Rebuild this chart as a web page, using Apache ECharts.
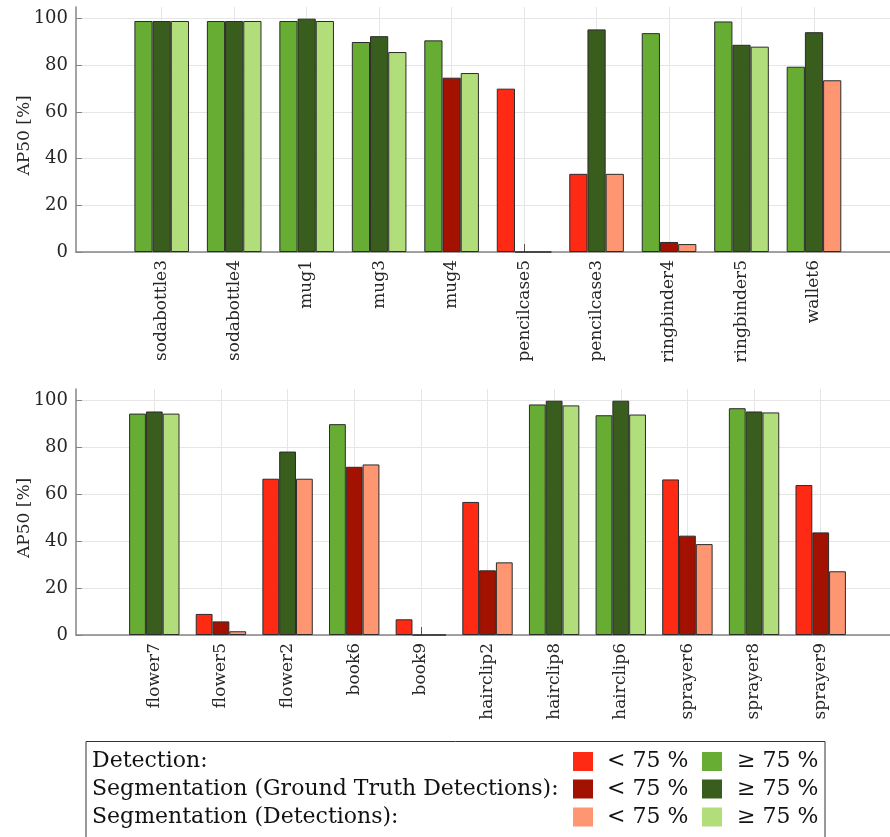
<!DOCTYPE html>
<html>
<head>
<meta charset="utf-8">
<title>AP50 per object</title>
<script src="https://cdn.jsdelivr.net/npm/echarts@6.0.0/dist/echarts.min.js"></script>
<style>
  html, body { margin: 0; padding: 0; background: #fff; }
  #chart { width: 890px; height: 837px; }
</style>
</head>
<body>
<div id="chart"></div>
<script>
// values (AP50 in %)
var topCategories = ['sodabottle3', 'sodabottle4', 'mug1', 'mug3', 'mug4', 'pencilcase5', 'pencilcase3', 'ringbinder4', 'ringbinder5', 'wallet6'];
var topDetection = [99, 99, 99, 90, 90.7, 70, 33.5, 93.8, 98.8, 79.4];
var topSegGT = [99, 99, 100, 92.5, 74.7, 0, 95.4, 4.3, 88.8, 94.2];
var topSegDet = [99, 99, 99, 85.7, 76.7, 0, 33.5, 3.4, 88, 73.6];

var bottomCategories = ['flower7', 'flower5', 'flower2', 'book6', 'book9', 'hairclip2', 'hairclip8', 'hairclip6', 'sprayer6', 'sprayer8', 'sprayer9'];
var bottomDetection = [94.5, 9, 66.7, 90, 6.7, 56.8, 98.4, 93.8, 66.4, 96.8, 64];
var bottomSegGT = [95.4, 5.8, 78.3, 71.8, 0, 27.6, 100, 100, 42.4, 95.4, 43.8];
var bottomSegDet = [94.5, 1.6, 66.7, 72.8, 0, 31, 98, 94.1, 38.8, 95, 27.2];

var yMin = 0, yMax = 100, yStep = 20, yLimit = 105;
var threshold = 75;

var seriesNames = ['Detection', 'Segmentation (Ground Truth Detections)', 'Segmentation (Detections)'];
var legendLabels = ['Detection:', 'Segmentation (Ground Truth Detections):', 'Segmentation (Detections):'];
var lowColors = ['#ff2a14', '#a31100', '#ff9672'];
var highColors = ['#67ad33', '#395d1c', '#b1de7b'];

var font = 'DejaVu Serif';
var textColor = '#262626';
var axisColor = '#858585';
var gridColor = '#e6e6e6';

var chart = echarts.init(document.getElementById('chart'));

// frame: axis lines up to the 105 limit
function frameY(idx) {
    return {
        gridIndex: idx, type: 'value', min: yMin, max: yLimit,
        axisLine: { show: true, lineStyle: { color: axisColor, width: 1.5 } },
        axisTick: { show: false }, axisLabel: { show: false }, splitLine: { show: false }
    };
}
function hiddenX(idx, line) {
    return {
        gridIndex: idx, type: 'value', min: 0, max: 1,
        axisLine: { show: line, onZero: false, lineStyle: { color: axisColor, width: 1.5 } },
        axisTick: { show: false }, axisLabel: { show: false }, splitLine: { show: false }
    };
}
// ticks, labels and grid lines 0..100
function tickY(idx) {
    return {
        gridIndex: idx, type: 'value', min: yMin, max: yMax, interval: yStep,
        name: 'AP50 [%]',
        nameLocation: 'middle',
        nameGap: 43,
        nameRotate: 90,
        nameMoveOverlap: false,
        nameTextStyle: { fontFamily: font, fontSize: 17, color: textColor },
        axisLine: { show: false },
        axisTick: { show: true, inside: true, length: 6, lineStyle: { color: axisColor } },
        axisLabel: { margin: 8, fontFamily: font, fontSize: 18, color: textColor },
        splitLine: { show: true, lineStyle: { color: gridColor } }
    };
}
// bar axes
function barX(idx, cats) {
    return {
        gridIndex: idx,
        type: 'category',
        data: cats,
        boundaryGap: false,
        axisLine: { show: false },
        axisTick: { show: true, inside: true, length: 8, lineStyle: { color: '#555' } },
        axisLabel: { interval: 0, rotate: 90, margin: 8, fontFamily: font, fontSize: 17, color: textColor },
        splitLine: { show: true, lineStyle: { color: gridColor } }
    };
}
function barY(idx) {
    return { gridIndex: idx, type: 'value', min: yMin, max: yLimit, show: false, splitLine: { show: false } };
}

function barSeries(axisIdx, data, k, width) {
    return {
        name: seriesNames[k],
        type: 'bar',
        xAxisIndex: axisIdx,
        yAxisIndex: axisIdx,
        data: data,
        barWidth: width,
        barGap: '0%',
        clip: false,
        silent: true,
        itemStyle: {
            color: function (p) { return p.value >= threshold ? highColors[k] : lowColors[k]; },
            borderColor: '#2b2b2b',
            borderWidth: 1
        }
    };
}

// legend box
var legendFont = '22px "' + font + '"';
var graphics = [{
    type: 'rect',
    shape: { x: 86, y: 741.5, width: 739, height: 140 },
    style: { fill: '#fff', stroke: '#333', lineWidth: 1 },
    z: 0
}];
var rowY = [761.5, 789, 817];
for (var k = 0; k < 3; k++) {
    graphics.push({
        type: 'text', x: 92, y: rowY[k],
        style: { text: legendLabels[k], font: legendFont, fill: '#111', textVerticalAlign: 'middle' }
    });
    graphics.push({
        type: 'rect', shape: { x: 573, y: rowY[k] - 9.5, width: 20, height: 19 },
        style: { fill: lowColors[k] }
    });
    graphics.push({
        type: 'text', x: 607, y: rowY[k],
        style: { text: '< 75 %', font: legendFont, fill: '#111', textVerticalAlign: 'middle' }
    });
    graphics.push({
        type: 'rect', shape: { x: 702, y: rowY[k] - 9.5, width: 20, height: 19 },
        style: { fill: highColors[k] }
    });
    graphics.push({
        type: 'text', x: 737, y: rowY[k],
        style: { text: '≥ 75 %', font: legendFont, fill: '#111', textVerticalAlign: 'middle' }
    });
}

var option = {
    animation: false,
    backgroundColor: '#fff',
    grid: [
        { left: 76, right: -20, top: 7, height: 245 },          // top frame
        { left: 161.7, right: 76, top: 7, height: 245 },        // top bars
        { left: 76, right: -20, top: 18.67, height: 233.33 },   // top ticks
        { left: 76, right: -20, top: 389, height: 246 },        // bottom frame
        { left: 154.3, right: 69.3, top: 389, height: 246 },    // bottom bars
        { left: 76, right: -20, top: 400.71, height: 234.29 }   // bottom ticks
    ],
    xAxis: [
        hiddenX(0, true), barX(1, topCategories), hiddenX(2, false),
        hiddenX(3, true), barX(4, bottomCategories), hiddenX(5, false)
    ],
    yAxis: [
        frameY(0), barY(1), tickY(2),
        frameY(3), barY(4), tickY(5)
    ],
    series: [
        barSeries(1, topDetection, 0, 18.2),
        barSeries(1, topSegGT, 1, 18.2),
        barSeries(1, topSegDet, 2, 18.2),
        barSeries(4, bottomDetection, 0, 16.8),
        barSeries(4, bottomSegGT, 1, 16.8),
        barSeries(4, bottomSegDet, 2, 16.8)
    ],
    graphic: graphics
};
chart.setOption(option);
</script>
</body>
</html>
